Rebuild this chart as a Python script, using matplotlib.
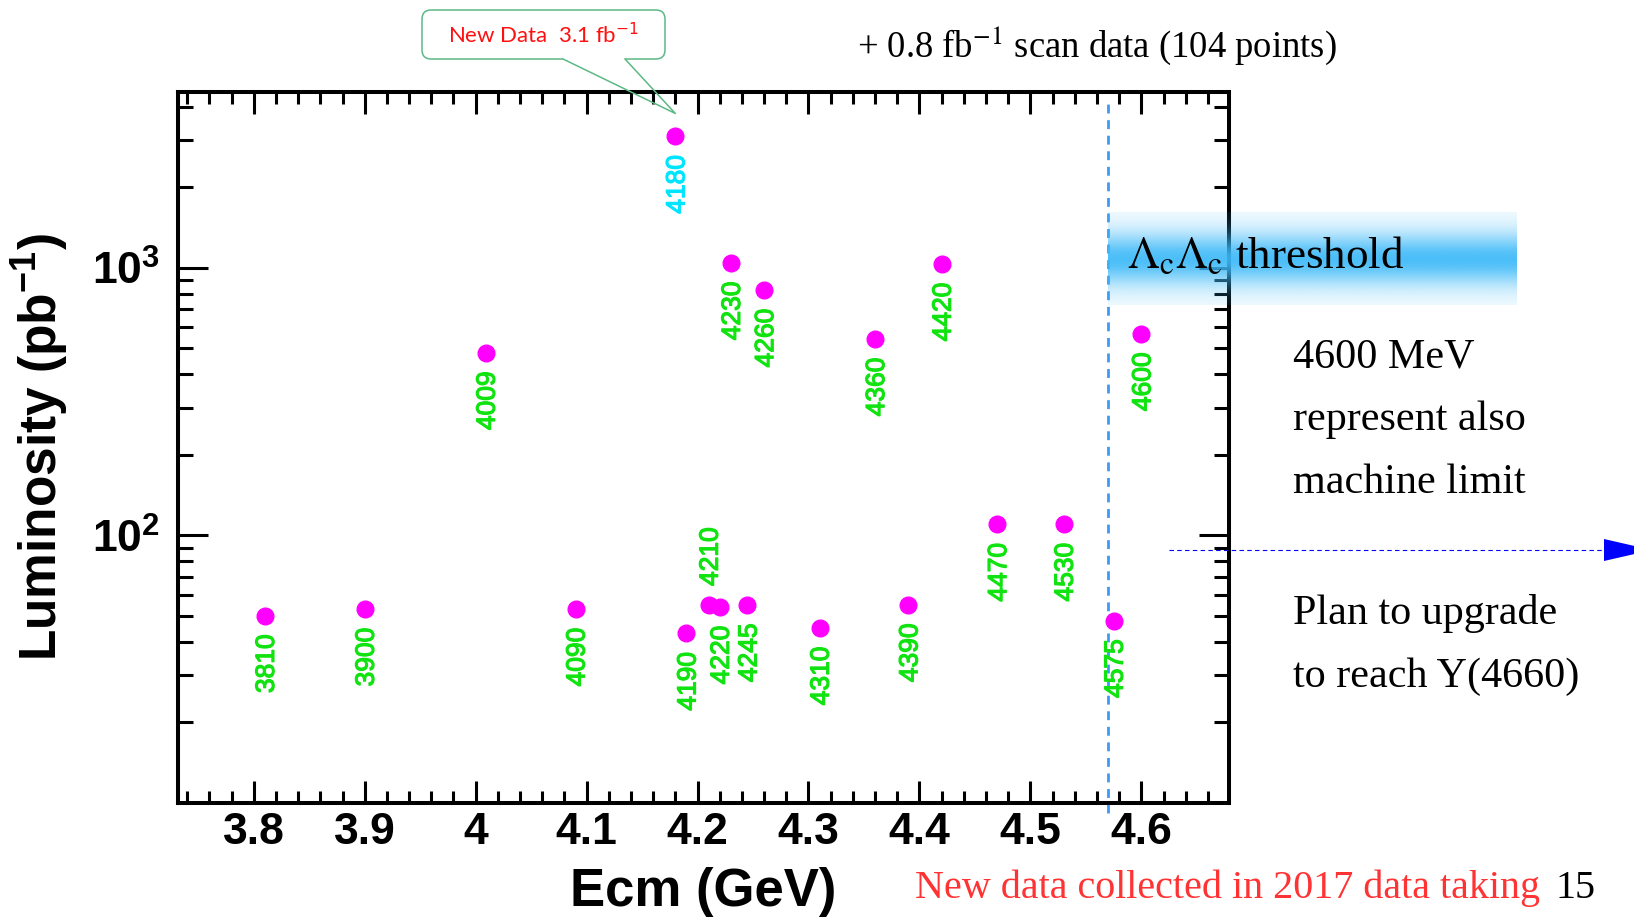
import numpy as np
import matplotlib
matplotlib.use('Agg')
import matplotlib.pyplot as plt
import matplotlib.patheffects as pe
from matplotlib.patches import FancyBboxPatch, Polygon
from matplotlib.ticker import FixedLocator, FixedFormatter, MultipleLocator, LogLocator, NullFormatter

plt.rcParams['font.family'] = 'Liberation Sans'
plt.rcParams['mathtext.fontset'] = 'custom'
plt.rcParams['mathtext.rm'] = 'Liberation Sans'
plt.rcParams['mathtext.bf'] = 'Liberation Sans:bold'
plt.rcParams['mathtext.it'] = 'Liberation Sans:italic'

# c.m. energy of each data set (MeV) and its integrated luminosity (pb^-1)
ecm_mev = [3810, 3900, 4009, 4090, 4180, 4190, 4210, 4220, 4230, 4245,
           4260, 4310, 4360, 4390, 4420, 4470, 4530, 4575, 4600]
lumi_pb = [50, 53, 482, 53, 3103, 43, 55, 54, 1045, 55,
           827, 45, 542, 55, 1035, 110, 110, 48, 567]
label_above = [4210]      # label sits over the marker
new_2017 = [4180]         # highlighted label colour

x_ticks = [3.8, 3.9, 4.0, 4.1, 4.2, 4.3, 4.4, 4.5, 4.6]
x_ticklabels = ['3.8', '3.9', '4', '4.1', '4.2', '4.3', '4.4', '4.5', '4.6']
y_ticks = [100, 1000]
y_ticklabels = [r'$\mathbf{10^{2}}$', r'$\mathbf{10^{3}}$']
threshold_gev = 4.57

W, H = 1634, 919
fig = plt.figure(figsize=(W / 100, H / 100), dpi=100)
ax = fig.add_axes([178.3 / W, 1 - 802.7 / H, (1229 - 178.3) / W, (802.7 - 92.3) / H])

ecm_gev = np.array(ecm_mev) / 1000.0
ax.plot(ecm_gev, lumi_pb, 'o', color='#ff00ff', ms=12, mec='#ff00ff', zorder=4)

for e, l, x in zip(ecm_mev, lumi_pb, ecm_gev):
    above = e in label_above
    col = '#00e5ff' if e in new_2017 else '#11e311'
    ax.annotate(str(e), (x, l), xytext=(1.5, 13.5 if above else -13.5), textcoords='offset points',
                rotation=90, ha='center', va='bottom' if above else 'top',
                fontsize=19, color=col, zorder=3,
                path_effects=[pe.withStroke(linewidth=0.9, foreground=col)])

ax.axvline(threshold_gev, ymin=-0.015, ymax=0.985, color='#3d9bf5', lw=2,
           dashes=(3.2, 2.4), clip_on=False, zorder=2)

ax.set_yscale('log')
ax.set_xlim(3.732, 4.679)
ax.set_ylim(10, 4540)
ax.xaxis.set_major_locator(FixedLocator(x_ticks))
ax.xaxis.set_major_formatter(FixedFormatter(x_ticklabels))
ax.xaxis.set_minor_locator(MultipleLocator(0.02))
ax.yaxis.set_major_locator(FixedLocator(y_ticks))
ax.yaxis.set_major_formatter(FixedFormatter(y_ticklabels))
ax.yaxis.set_minor_locator(LogLocator(base=10, subs=np.arange(2, 10)))
ax.yaxis.set_minor_formatter(NullFormatter())

ax.tick_params(which='both', direction='in', top=True, right=True, width=2.2,
               labelsize=32, color='black')
ax.tick_params(axis='x', which='major', length=16, pad=7)
ax.tick_params(axis='x', which='minor', length=8.6)
ax.tick_params(axis='y', which='major', length=21.6, pad=13)
ax.tick_params(axis='y', which='minor', length=10.8)
for lab in ax.get_xticklabels() + ax.get_yticklabels():
    lab.set_fontweight('bold')
for s in ax.spines.values():
    s.set_linewidth(2.9)

ax.set_xlabel('Ecm (GeV)', fontsize=38, fontweight='bold')
ax.xaxis.set_label_coords(0.5, -0.091)
ax.set_ylabel(r'Luminosity (pb$^{\mathbf{-1}}$)', fontsize=37, fontweight='bold')
ax.yaxis.set_label_coords(-0.102, 0.5)

# overlay in pixel coordinates (y downwards) for the slide annotations
ov = fig.add_axes([0, 0, 1, 1], zorder=5)
ov.axis('off')

# threshold band with a soft vertical fade
band_h = 97
d = np.arange(band_h) - band_h / 2.0
alpha = 0.06 + 0.86 * np.exp(-(d / 27.0) ** 2)
rgba = np.zeros((band_h, 2, 4))
rgba[..., 0] = 60 / 255
rgba[..., 1] = 185 / 255
rgba[..., 2] = 248 / 255
rgba[..., 3] = alpha[:, None]
ov.imshow(rgba, extent=(1108, 1517, 305, 212), aspect='auto', interpolation='bilinear', zorder=1)

serif = dict(family='Liberation Serif', math_fontfamily='stix', color='black')
ov.text(1127, 268, r'$\Lambda_{\mathrm{c}}\Lambda_{\mathrm{c}}$ threshold', fontsize=32.5, va='baseline', zorder=3, **serif)

ov.text(857, 57, r'+ 0.8 fb$^{\mathrm{-1}}$ scan data (104 points)', fontsize=26.4, va='baseline', **serif)

for txt, yb in zip(['4600 MeV', 'represent also', 'machine limit', 'Plan to upgrade', 'to reach Y(4660)'],
                   [367, 430, 493, 624, 687]):
    ov.text(1293, yb, txt, fontsize=30.3, va='baseline', **serif)

ov.text(915, 898, 'New data collected in 2017 data taking', fontsize=28.9, va='baseline',
        **dict(serif, color='#ff3333'))
ov.text(1556, 898, '15', fontsize=28.9, va='baseline', **serif)

# dashed arrow towards higher energies
ov.plot([1169, 1606], [550, 550], color='blue', lw=0.8, dashes=(4, 3))
ov.add_patch(Polygon([(1604, 539), (1652, 550), (1604, 561)], closed=True, color='blue', lw=0))

# callout pointing at the 4180 MeV point
i180 = ecm_mev.index(4180)
px, py = ax.transData.transform((ecm_gev[i180], lumi_pb[i180]))
tip = (px, H - py - 23)
green = '#5cb985'
ov.add_patch(FancyBboxPatch((422, 10), 243, 49, boxstyle='round,pad=0,rounding_size=9',
                            fc='white', ec=green, lw=1.1, zorder=2))
ov.plot([564, 624], [59, 59], color='white', lw=1.6, zorder=3)
ov.plot([563, tip[0], 625], [59, tip[1], 59], color=green, lw=1.1, zorder=3)
ov.text(543, 43, r'New Data  3.1 fb$^{-1}$', family='Lato', fontsize=16,
        color='#ff1010', ha='center', va='baseline', math_fontfamily='dejavusans', zorder=4)

ov.set_xlim(0, W)
ov.set_ylim(H, 0)

fig.savefig('out.png', dpi=100)
